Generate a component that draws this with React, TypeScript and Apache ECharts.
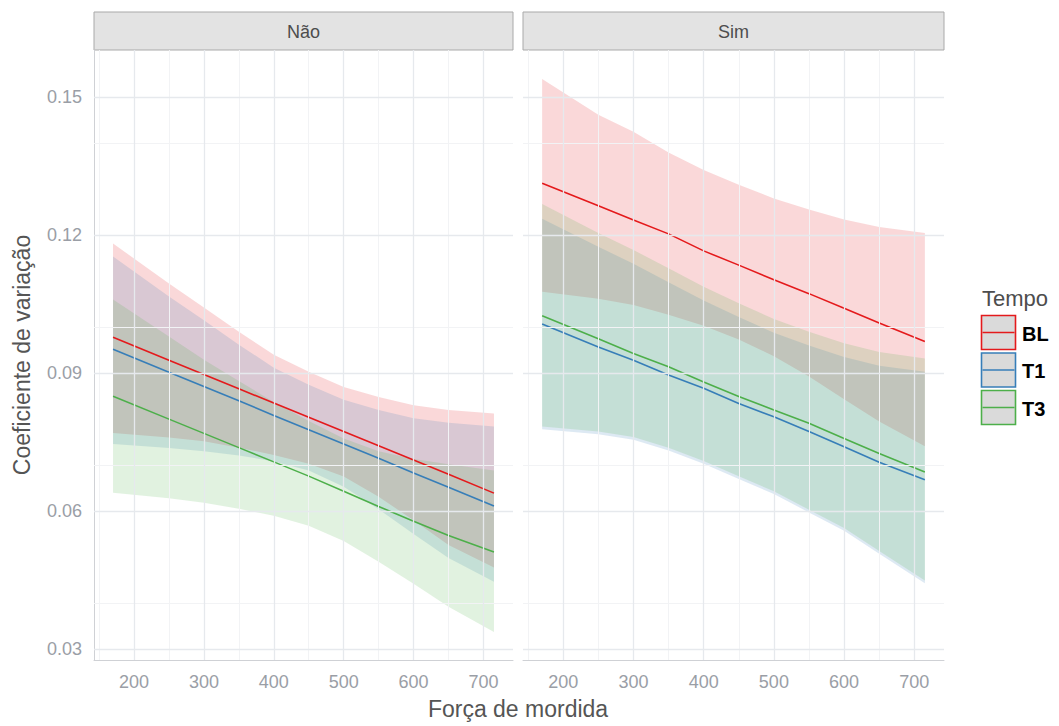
import React, { useEffect, useRef } from 'react';
import * as echarts from 'echarts';

// ---- Data ----
const FORCA = [170, 250, 300, 350, 400, 450, 500, 550, 600, 650, 715];
const FACETS = ['Não', 'Sim'];
const TEMPO = ['BL', 'T1', 'T3'];
const X_TICKS = [200, 300, 400, 500, 600, 700];
const X_MINOR = [150, 250, 350, 450, 550, 650];
const Y_TICKS = [0.03, 0.06, 0.09, 0.12, 0.15];
const Y_MINOR = [0.045, 0.075, 0.105, 0.135];

// Não
const NAO_BL_FIT = [0.0978, 0.0928, 0.0897, 0.0866, 0.0835, 0.0804, 0.0773, 0.0742, 0.0711, 0.0680, 0.0639];
const NAO_BL_HI = [0.1182, 0.1095, 0.1043, 0.0990, 0.0940, 0.0903, 0.0870, 0.0848, 0.0830, 0.0820, 0.0812];
const NAO_BL_LO = [0.0770, 0.0760, 0.0752, 0.0738, 0.0722, 0.0703, 0.0675, 0.0631, 0.0580, 0.0526, 0.0477];
const NAO_T1_FIT = [0.0952, 0.0902, 0.0871, 0.0840, 0.0808, 0.0777, 0.0746, 0.0715, 0.0683, 0.0652, 0.0611];
const NAO_T1_HI = [0.1154, 0.1067, 0.1015, 0.0962, 0.0912, 0.0875, 0.0842, 0.0820, 0.0802, 0.0792, 0.0784];
const NAO_T1_LO = [0.0746, 0.0737, 0.0730, 0.0721, 0.0708, 0.0688, 0.0653, 0.0604, 0.0550, 0.0498, 0.0446];
const NAO_T3_FIT = [0.0850, 0.0800, 0.0769, 0.0738, 0.0707, 0.0676, 0.0643, 0.0610, 0.0578, 0.0547, 0.0511];
const NAO_T3_HI = [0.1060, 0.0980, 0.0929, 0.0883, 0.0837, 0.0796, 0.0758, 0.0730, 0.0713, 0.0702, 0.0688];
const NAO_T3_LO = [0.0640, 0.0628, 0.0618, 0.0605, 0.0590, 0.0568, 0.0535, 0.0490, 0.0442, 0.0392, 0.0337];

// Sim
const SIM_BL_FIT = [0.1313, 0.1264, 0.1233, 0.1203, 0.1166, 0.1135, 0.1103, 0.1073, 0.1041, 0.1009, 0.0969];
const SIM_BL_HI = [0.1540, 0.1462, 0.1425, 0.1380, 0.1342, 0.1310, 0.1280, 0.1256, 0.1234, 0.1218, 0.1205];
const SIM_BL_LO = [0.1077, 0.1062, 0.1048, 0.1027, 0.1003, 0.0973, 0.0937, 0.0893, 0.0843, 0.0795, 0.0741];
const SIM_T1_FIT = [0.1007, 0.0957, 0.0928, 0.0896, 0.0867, 0.0834, 0.0805, 0.0773, 0.0740, 0.0706, 0.0668];
const SIM_T1_HI = [0.1236, 0.1175, 0.1138, 0.1098, 0.1058, 0.1022, 0.0988, 0.0960, 0.0935, 0.0916, 0.0903];
const SIM_T1_LO = [0.0778, 0.0767, 0.0755, 0.0732, 0.0703, 0.0670, 0.0637, 0.0597, 0.0557, 0.0507, 0.0443];
const SIM_T3_FIT = [0.1025, 0.0975, 0.0943, 0.0914, 0.0881, 0.0849, 0.0820, 0.0791, 0.0758, 0.0725, 0.0685];
const SIM_T3_HI = [0.1268, 0.1205, 0.1168, 0.1128, 0.1088, 0.1052, 0.1018, 0.0990, 0.0965, 0.0946, 0.0932];
const SIM_T3_LO = [0.0784, 0.0773, 0.0761, 0.0738, 0.0709, 0.0676, 0.0643, 0.0603, 0.0563, 0.0513, 0.0449];

const COLORS = ['#E41A1C', '#377EB8', '#4DAF4A'];
const FONT = "'Liberation Sans', Arial, sans-serif";

const PANELS = [
  { fit: [NAO_BL_FIT, NAO_T1_FIT, NAO_T3_FIT], lo: [NAO_BL_LO, NAO_T1_LO, NAO_T3_LO], hi: [NAO_BL_HI, NAO_T1_HI, NAO_T3_HI] },
  { fit: [SIM_BL_FIT, SIM_T1_FIT, SIM_T3_FIT], lo: [SIM_BL_LO, SIM_T1_LO, SIM_T3_LO], hi: [SIM_BL_HI, SIM_T1_HI, SIM_T3_HI] },
];

const GRIDS = [
  { left: 94, top: 50, width: 419, height: 610 },
  { left: 523, top: 50, width: 421, height: 610 },
];

function rgba(hex: string, a: number) {
  const n = parseInt(hex.slice(1), 16);
  return `rgba(${(n >> 16) & 255},${(n >> 8) & 255},${n & 255},${a})`;
}

function bandSeries(g: number, k: number, lo: number[], hi: number[]) {
  const rows = FORCA.map((x, i) => [x, lo[i], hi[i]]);
  return {
    type: 'custom',
    name: TEMPO[k] + ' IC',
    xAxisIndex: g,
    yAxisIndex: g,
    data: rows,
    encode: { x: 0, y: [1, 2] },
    silent: true,
    z: 2,
    renderItem: (params: any, api: any) => {
      if (params.dataIndex !== 0) return null;
      const top = rows.map((r) => api.coord([r[0], r[2]]));
      const bot = rows.map((r) => api.coord([r[0], r[1]])).reverse();
      return {
        type: 'polygon',
        shape: { points: top.concat(bot) },
        style: { fill: rgba(COLORS[k], 0.17), stroke: 'none' },
      };
    },
  };
}

export default function App() {
  const ref = useRef<HTMLDivElement>(null);
  useEffect(() => {
    if (!ref.current) return;
    const chart = echarts.init(ref.current, undefined, { renderer: 'svg', width: 1059, height: 726 });

    const series: any[] = [];
    GRIDS.forEach((_, g) => {
      series.push({
        type: 'line',
        xAxisIndex: g,
        yAxisIndex: g,
        data: [[400, 0.1]],
        symbol: 'none',
        lineStyle: { opacity: 0 },
        silent: true,
        z: 1,
        markLine: {
          silent: true,
          symbol: ['none', 'none'],
          label: { show: false },
          animation: false,
          data: [
            ...X_MINOR.map((v) => ({ xAxis: v, lineStyle: { color: '#f2f3f5', width: 1, type: 'solid' } })),
            ...Y_MINOR.map((v) => ({ yAxis: v, lineStyle: { color: '#f2f3f5', width: 1, type: 'solid' } })),
            ...X_TICKS.map((v) => ({ xAxis: v, lineStyle: { color: '#e6e9ed', width: 1.3, type: 'solid' } })),
            ...Y_TICKS.map((v) => ({ yAxis: v, lineStyle: { color: '#e6e9ed', width: 1.3, type: 'solid' } })),
          ],
        },
      });
      const p = PANELS[g];
      for (let k = 0; k < 3; k++) series.push(bandSeries(g, k, p.lo[k], p.hi[k]));
      for (let k = 0; k < 3; k++) {
        series.push({
          type: 'line',
          name: TEMPO[k],
          xAxisIndex: g,
          yAxisIndex: g,
          data: FORCA.map((x, i) => [x, p.fit[k][i]]),
          symbol: 'none',
          showSymbol: false,
          lineStyle: { color: COLORS[k], width: 1.6 },
          itemStyle: { color: COLORS[k] },
          z: 3,
          silent: true,
        });
      }
    });

    const graphic: any[] = [];
    GRIDS.forEach((gr, g) => {
      graphic.push({
        type: 'rect',
        shape: { x: gr.left, y: 12, width: gr.width, height: 38 },
        style: { fill: '#e3e3e3', stroke: '#a9a9a9', lineWidth: 1 },
      });
      graphic.push({
        type: 'text',
        x: gr.left + gr.width / 2,
        y: 32,
        style: { text: FACETS[g], fontSize: 18, fontFamily: FONT, fill: '#4d4d4d', align: 'center', verticalAlign: 'middle' },
      });
    });
    graphic.push({
      type: 'text',
      x: 22,
      y: 355,
      rotation: Math.PI / 2,
      style: { text: 'Coeficiente de variação', fontSize: 23, fontFamily: FONT, fill: '#555555', align: 'center', verticalAlign: 'middle' },
    });
    graphic.push({
      type: 'text',
      x: 518,
      y: 709,
      style: { text: 'Força de mordida', fontSize: 23, fontFamily: FONT, fill: '#555555', align: 'center', verticalAlign: 'middle' },
    });
    graphic.push({
      type: 'text',
      x: 982,
      y: 298,
      style: { text: 'Tempo', fontSize: 22, fontFamily: FONT, fill: '#4d4d4d', align: 'left', verticalAlign: 'middle' },
    });
    TEMPO.forEach((t, i) => {
      const y0 = 315.5 + i * 37.5;
      graphic.push({
        type: 'rect',
        shape: { x: 981.5, y: y0, width: 34, height: 34 },
        style: { fill: '#dadada', stroke: COLORS[i], lineWidth: 1.6 },
      });
      graphic.push({
        type: 'line',
        shape: { x1: 982.5, y1: y0 + 17, x2: 1014.5, y2: y0 + 17 },
        style: { stroke: COLORS[i], lineWidth: 1.6 },
      });
      graphic.push({
        type: 'text',
        x: 1022,
        y: y0 + 18,
        style: { text: t, fontSize: 20, fontWeight: 'bold', fontFamily: FONT, fill: '#000000', align: 'left', verticalAlign: 'middle' },
      });
    });

    chart.setOption({
      animation: false,
      backgroundColor: '#ffffff',
      grid: GRIDS.map((gr) => ({ ...gr, containLabel: false })),
      xAxis: GRIDS.map((_, g) => ({
        type: 'value',
        gridIndex: g,
        min: 142.75,
        max: 742.25,
        axisLine: { show: true, onZero: false, lineStyle: { color: '#cfd1d5', width: 1 } },
        axisTick: { show: false, customValues: X_TICKS },
        splitLine: { show: false },
        axisLabel: { customValues: X_TICKS, color: '#9a9ea6', fontSize: 18, fontFamily: FONT, margin: 13 },
      })),
      yAxis: GRIDS.map((_, g) => ({
        type: 'value',
        gridIndex: g,
        min: 0.0276,
        max: 0.1603,
        axisLine: { show: g === 0, onZero: false, lineStyle: { color: '#cfd1d5', width: 1 } },
        axisTick: { show: false, customValues: Y_TICKS },
        splitLine: { show: false },
        axisLabel: {
          show: g === 0,
          customValues: Y_TICKS,
          formatter: (v: number) => v.toFixed(2),
          color: '#9a9ea6',
          fontSize: 18,
          fontFamily: FONT,
          margin: 12,
        },
      })),
      series,
      graphic,
    });
    return () => chart.dispose();
  }, []);
  return <div ref={ref} style={{ position: 'fixed', left: 0, top: 0, width: 1059, height: 726, background: '#fff' }} />;
}
